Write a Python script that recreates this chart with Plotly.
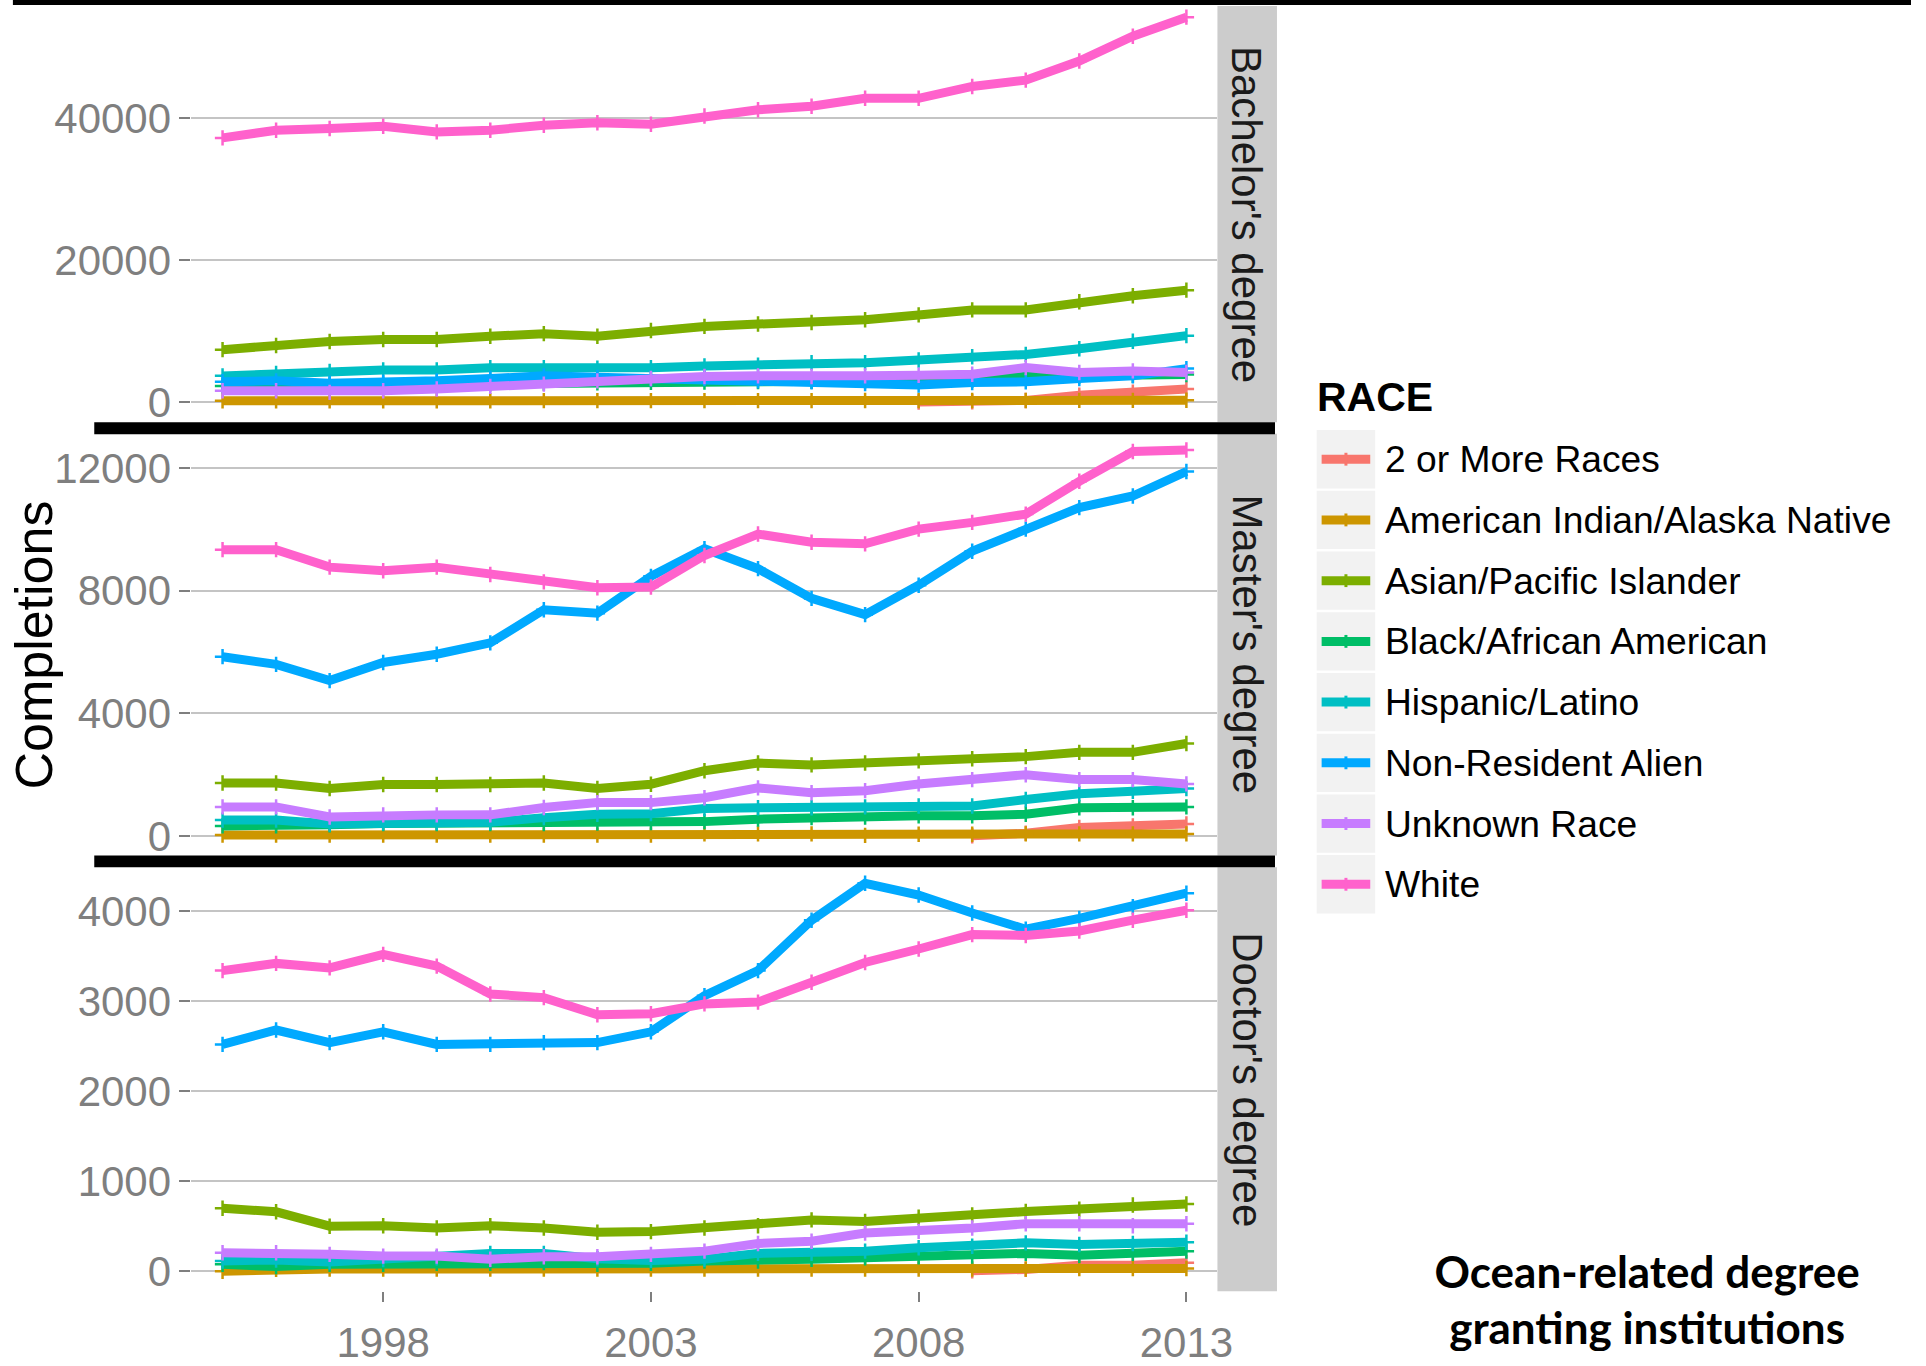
import plotly.graph_objects as go

W, H = 1926, 1366

YEARS = list(range(1995, 2014))
RACES = ["2 or More Races", "American Indian/Alaska Native", "Asian/Pacific Islander",
         "Black/African American", "Hispanic/Latino", "Non-Resident Alien",
         "Unknown Race", "White"]
COLORS = ["#F8766D", "#CD9600", "#7CAE00", "#00BE67", "#00BFC4", "#00A9FF",
          "#C77CFF", "#FF61CC"]
DEGREES = ["Bachelor's degree", "Master's degree", "Doctor's degree"]
X_TICKS = [1998, 2003, 2008, 2013]
Y_TICKS = [[0, 20000, 40000], [0, 4000, 8000, 12000], [0, 1000, 2000, 3000, 4000]]
CAPTION_LINES = ["<b>Ocean-related degree</b>", "<b>granting institutions</b>"]

# ---------------- Bachelor's degree ----------------
bach_two_more = [None] * 13 + [30, 60, 250, 1000, 1400, 1850]
bach_am_indian = [200, 200, 200, 210, 210, 210, 220, 220, 220, 230, 230, 230, 240, 240, 250, 250, 260, 260, 270]
bach_asian = [7400, 7980, 8540, 8820, 8820, 9280, 9650, 9280, 10100, 10670, 11000, 11230, 11600, 12290, 12990, 12990, 14150, 14990, 15770]
bach_black = [2300, 2350, 2400, 2450, 2500, 2600, 2700, 2750, 2800, 2850, 2900, 2950, 3000, 3050, 3100, 3650, 3700, 3800, 3900]
bach_hispanic = [3710, 4040, 4320, 4550, 4550, 4870, 4870, 4800, 4870, 5100, 5200, 5570, 5570, 5940, 6400, 6730, 7520, 8580, 9370]
bach_nra = [2880, 3010, 2690, 2780, 3010, 3340, 3710, 3500, 3300, 3340, 3010, 2880, 2640, 2410, 2780, 2880, 3340, 3710, 4730]
bach_unknown = [1620, 1620, 1390, 1620, 1860, 2230, 2550, 3000, 3340, 3620, 3710, 3620, 3710, 3800, 3940, 4870, 4180, 4410, 4180]
bach_white = [37200, 38280, 38510, 38830, 38040, 38280, 38970, 39340, 39110, 40270, 41150, 41660, 42770, 42770, 44440, 45330, 48020, 51500, 54190]

# ---------------- Master's degree ----------------
mast_two_more = [None] * 14 + [10, 90, 280, 330, 390]
mast_am_indian = [30, 30, 30, 30, 30, 30, 30, 30, 30, 70, 70, 70, 20, 60, 60, 70, 70, 70, 70]
mast_asian = [1730, 1730, 1550, 1680, 1680, 1680, 1730, 1550, 1690, 2130, 2380, 2320, 2380, 2450, 2520, 2590, 2730, 2730, 3020]
mast_black = [330, 330, 370, 410, 410, 410, 410, 420, 440, 470, 550, 600, 620, 660, 660, 710, 920, 920, 950]
mast_hispanic = [520, 520, 390, 430, 440, 450, 600, 710, 730, 900, 920, 920, 950, 980, 980, 1190, 1380, 1460, 1550]
mast_nra = [5850, 5600, 5070, 5660, 5930, 6300, 7380, 7270, 8470, 9370, 8720, 7750, 7220, 8180, 9290, 10010, 10710, 11090, 11890]
mast_unknown = [950, 950, 620, 690, 690, 690, 930, 1090, 1090, 1250, 1570, 1410, 1480, 1700, 1840, 2000, 1840, 1840, 1700]
mast_white = [9340, 9340, 8770, 8650, 8770, 8530, 8290, 8100, 8120, 9150, 9850, 9580, 9530, 10010, 10230, 10500, 11570, 12540, 12590]

# ---------------- Doctor's degree ----------------
doct_two_more = [None] * 14 + [5, 20, 65, 65, 95]
doct_am_indian = [0, 20, 25, 25, 25, 25, 25, 25, 25, 25, 25, 25, 25, 25, 25, 25, 30, 30, 30]
doct_asian = [700, 660, 500, 505, 480, 505, 480, 432, 440, 480, 505, 570, 553, 600, 626, 663, 690, 736, 747]
doct_black = [77, 51, 77, 77, 88, 88, 95, 77, 88, 114, 114, 132, 150, 161, 168, 198, 176, 198, 223]
doct_hispanic = [114, 125, 103, 130, 150, 198, 198, 139, 120, 132, 198, 198, 223, 260, 278, 315, 297, 308, 322]
doct_nra = [2520, 2680, 2540, 2660, 2520, 2520, 2540, 2540, 2660, 3060, 3340, 3900, 4310, 4180, 3980, 3800, 3920, 4050, 4200]
doct_unknown = [205, 205, 187, 168, 168, 132, 161, 161, 187, 223, 308, 333, 425, 443, 480, 527, 527, 505, 527]
doct_white = [3340, 3420, 3370, 3520, 3390, 3080, 3040, 2850, 2860, 2970, 2990, 3210, 3430, 3580, 3740, 3730, 3780, 3900, 4010]

SERIES = [
    [bach_two_more, bach_am_indian, bach_asian, bach_black, bach_hispanic, bach_nra, bach_unknown, bach_white],
    [mast_two_more, mast_am_indian, mast_asian, mast_black, mast_hispanic, mast_nra, mast_unknown, mast_white],
    [doct_two_more, doct_am_indian, doct_asian, doct_black, doct_hispanic, doct_nra, doct_unknown, doct_white],
]

# ---------------- layout geometry (pixels) ----------------
PANEL_X = (193, 1227)
PANEL_Y = [(6, 427), (438.5, 865), (877, 1305.7)]
Y_RANGES = [[-2825, 55769], [-635, 13123], [-224, 4487]]
X_RANGE = [1994.42, 2013.58]
STRIP_X = (1227, 1287)
CAPTION_BOX = (1400, 1926, 1230, 1366)    # x0, x1, top, bottom (pixels)
CAPTION_POS = [(1660, 1291), (1660, 1348)]  # centre of each caption line (pixels)


def fx(px):
    return px / W


def fy(py):
    return 1 - py / H


FONT = "Liberation Sans, Arial, sans-serif"
TICK_GRAY = "#7F7F7F"

fig = go.Figure()

for p in range(3):
    xa = "x" if p == 0 else f"x{p + 1}"
    ya = "y" if p == 0 else f"y{p + 1}"
    for name, color, vals in zip(RACES, COLORS, SERIES[p]):
        fig.add_trace(go.Scatter(
            x=YEARS, y=vals, mode="lines+markers", name=name,
            line=dict(color=color, width=9),
            marker=dict(symbol="cross-thin", size=11, color=color,
                        line=dict(color=color, width=2.5)),
            connectgaps=False, showlegend=False, xaxis=xa, yaxis=ya,
            hoverinfo="skip"))

# caption, clipped at the bottom edge of the picture as in the source
fig.add_trace(go.Scatter(
    x=[c[0] for c in CAPTION_POS], y=[c[1] for c in CAPTION_POS],
    text=CAPTION_LINES, mode="text", textposition="middle center",
    textfont=dict(size=44, color="black", family="Lato, Carlito, sans-serif"),
    cliponaxis=True, showlegend=False, hoverinfo="skip", xaxis="x4", yaxis="y4"))

layout = dict(
    width=W, height=H,
    margin=dict(l=0, r=0, t=0, b=0),
    paper_bgcolor="white", plot_bgcolor="white",
    showlegend=False,
    font=dict(family=FONT, color="black"),
)

for p in range(3):
    xk = "xaxis" if p == 0 else f"xaxis{p + 1}"
    yk = "yaxis" if p == 0 else f"yaxis{p + 1}"
    ytop, ybot = PANEL_Y[p]
    bottom = (p == 2)
    layout[xk] = dict(
        domain=[fx(PANEL_X[0]), fx(PANEL_X[1])], range=X_RANGE,
        anchor="y" if p == 0 else f"y{p + 1}",
        tickvals=X_TICKS if bottom else [], ticktext=[str(v) for v in X_TICKS] if bottom else [],
        showticklabels=bottom, ticks="outside" if bottom else "",
        ticklen=10, tickwidth=2, tickcolor=TICK_GRAY, ticklabelstandoff=4,
        tickfont=dict(size=42, color=TICK_GRAY, family=FONT),
        showgrid=False, zeroline=False, showline=False,
    )
    layout[yk] = dict(
        domain=[fy(ybot), fy(ytop)], range=Y_RANGES[p],
        anchor="x" if p == 0 else f"x{p + 1}",
        tickvals=Y_TICKS[p], ticktext=[str(v) for v in Y_TICKS[p]],
        ticks="outside", ticklen=11, tickwidth=2, tickcolor=TICK_GRAY,
        tickfont=dict(size=42, color=TICK_GRAY, family=FONT),
        showgrid=True, gridcolor="#C4C4C4", gridwidth=2,
        zeroline=False, showline=False,
    )

cx0, cx1, ctop, cbot = CAPTION_BOX
layout["xaxis4"] = dict(domain=[fx(cx0), fx(cx1)], range=[cx0, cx1], visible=False,
                        anchor="y4", fixedrange=True)
layout["yaxis4"] = dict(domain=[fy(cbot), fy(ctop)], range=[cbot, ctop], visible=False,
                        anchor="x4", fixedrange=True)

shapes = []
annotations = []

# facet strips
for p in range(3):
    ytop, ybot = PANEL_Y[p]
    shapes.append(dict(type="rect", xref="paper", yref="paper", layer="below",
                       x0=fx(STRIP_X[0]), x1=fx(STRIP_X[1]), y0=fy(ybot), y1=fy(ytop),
                       fillcolor="#CCCCCC", line=dict(width=0)))
    annotations.append(dict(xref="paper", yref="paper", x=fx((STRIP_X[0] + STRIP_X[1]) / 2),
                            y=fy((ytop + ybot) / 2), text=DEGREES[p], textangle=90,
                            showarrow=False, xanchor="center", yanchor="middle",
                            font=dict(size=42, color="#1A1A1A", family=FONT)))

# black separator bars and top rule
for (y0, y1) in [(427, 439), (865, 877)]:
    shapes.append(dict(type="rect", xref="paper", yref="paper", x0=fx(95), x1=fx(1285),
                       y0=fy(y1), y1=fy(y0), fillcolor="black", line=dict(width=0)))
shapes.append(dict(type="rect", xref="paper", yref="paper", x0=fx(13), x1=fx(W),
                   y0=fy(5), y1=fy(0), fillcolor="black", line=dict(width=0)))

# y axis title
annotations.append(dict(xref="paper", yref="paper", x=fx(34), y=fy(652), text="Completions",
                        textangle=-90, showarrow=False, xanchor="center", yanchor="middle",
                        font=dict(size=52, color="black", family=FONT)))

# legend (manual)
LEG_X0, LEG_X1 = 1327, 1386
LEG_ROW0, LEG_STEP = 464.3, 61.4
annotations.append(dict(xref="paper", yref="paper", x=fx(1325), y=fy(401), text="<b>RACE</b>",
                        showarrow=False, xanchor="left", yanchor="middle",
                        font=dict(size=41, color="black", family=FONT)))
for i, (name, color) in enumerate(zip(RACES, COLORS)):
    cy = LEG_ROW0 + i * LEG_STEP
    shapes.append(dict(type="rect", xref="paper", yref="paper",
                       x0=fx(LEG_X0), x1=fx(LEG_X1), y0=fy(cy + 29.5), y1=fy(cy - 29.5),
                       fillcolor="#F2F2F2", line=dict(width=0)))
    shapes.append(dict(type="line", xref="paper", yref="paper",
                       x0=fx(LEG_X0 + 5), x1=fx(LEG_X1 - 5), y0=fy(cy), y1=fy(cy),
                       line=dict(color=color, width=9)))
    shapes.append(dict(type="line", xref="paper", yref="paper",
                       x0=fx((LEG_X0 + LEG_X1) / 2), x1=fx((LEG_X0 + LEG_X1) / 2),
                       y0=fy(cy - 6.5), y1=fy(cy + 6.5),
                       line=dict(color=color, width=3)))
    annotations.append(dict(xref="paper", yref="paper", x=fx(1394), y=fy(cy), text=name,
                            showarrow=False, xanchor="left", yanchor="middle",
                            font=dict(size=37.2, color="black", family=FONT)))

layout["shapes"] = shapes
layout["annotations"] = annotations
fig.update_layout(**layout)

# page chrome: no body margin and nothing overflowing the figure box
POST = ("document.documentElement.style.margin='0px';"
        "document.documentElement.style.overflow='hidden';"
        "document.body.style.margin='0px';"
        "document.body.style.overflow='hidden';"
        "var gd=document.getElementById('{plot_id}');"
        "gd.style.overflow='hidden';")

fig.write_html("out.html", config={"displayModeBar": False}, post_script=POST)
